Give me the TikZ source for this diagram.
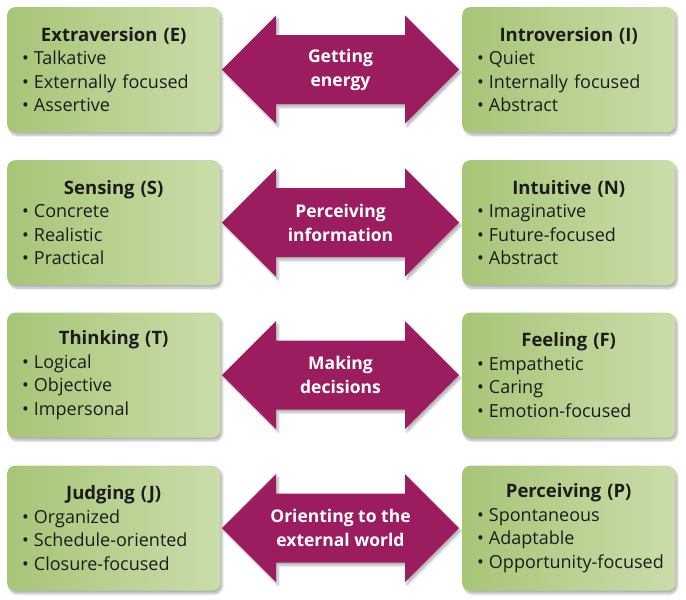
\documentclass[tikz,border=0pt]{standalone}
\usepackage{fontspec}
\setmainfont{Open Sans}
\usetikzlibrary{shadows.blur}

\definecolor{plum}{HTML}{9C1D5F}
\definecolor{greenL}{HTML}{A7C577}
\definecolor{greenR}{HTML}{CADDAA}
\definecolor{ink}{HTML}{1C1C1C}

\tikzset{
  traitbg/.style={
    anchor=north west, rounded corners=8pt,
    minimum width=213pt, minimum height=125pt, inner sep=0pt,
    left color=greenL, right color=greenR,
    blur shadow={shadow xshift=2pt, shadow yshift=-3pt, shadow blur steps=8, shadow opacity=30}},
  traittext/.style={
    text width=183pt, inner sep=0pt, align=left,
    font=\fontsize{18}{23.5}\selectfont, text=ink},
  pairarrow/.style={fill=plum,
    blur shadow={shadow xshift=2pt, shadow yshift=-3pt, shadow blur steps=8, shadow opacity=30}},
  arrowlabel/.style={text=white, align=center,
    font=\fontsize{17.5}{24}\selectfont\bfseries}
}

% one bullet line, never broken
\newcommand{\traititem}[1]{\mbox{\textbullet\hspace{5pt}#1}}

% trait box: name, x, y, title, three bullet items
\newcommand{\traitbox}[7]{%
  \node[traitbg] (#1) at (#2,#3) {};
  \node[traittext] (#1-text) at (#1.center) {{\centering\fontsize{18.5}{23.5}\selectfont\bfseries #4\par}%
    \traititem{#5}\par\traititem{#6}\par\traititem{#7}};
}

% double-headed arrow centred vertically on cy
\newcommand{\pairarrow}[2]{%
  \fill[pairarrow] (222,#1) -- (276,#1-54) -- (276,#1-34.5) -- (405,#1-34.5)
    -- (405,#1-54) -- (459,#1) -- (405,#1+54) -- (405,#1+34.5) -- (276,#1+34.5)
    -- (276,#1+54) -- cycle;
  \coordinate (#2) at (340.5,#1);
}

\begin{document}
\begin{tikzpicture}[x=1pt,y=-1pt]
\useasboundingbox (0,0) rectangle (686,600);

% row 1: energy
\pairarrow{69.5}{energy}
\node[arrowlabel] (energy-label) at (energy) {Getting\\energy};
\traitbox{E}{7}{7}{Extraversion (E)}{Talkative}{Externally focused}{Assertive}
\traitbox{I}{462}{7}{Introversion (I)}{Quiet}{Internally focused}{Abstract}

% row 2: information
\pairarrow{222.5}{info}
\node[arrowlabel] (info-label) at (info) {Perceiving\\information};
\traitbox{S}{7}{160}{Sensing (S)}{Concrete}{Realistic}{Practical}
\traitbox{N}{462}{160}{Intuitive (N)}{Imaginative}{Future-focused}{Abstract}

% row 3: decisions
\pairarrow{375}{decide}
\node[arrowlabel] (decide-label) at (decide) {Making\\decisions};
\traitbox{T}{7}{312.5}{Thinking (T)}{Logical}{Objective}{Impersonal}
\traitbox{F}{462}{312.5}{Feeling (F)}{Empathetic}{Caring}{Emotion-focused}

% row 4: outer world
\pairarrow{528}{orient}
\node[arrowlabel] (orient-label) at (orient) {Orienting to the\\external world};
\traitbox{J}{7}{465.5}{Judging (J)}{Organized}{Schedule-oriented}{Closure-focused}
\traitbox{P}{462}{465.5}{Perceiving (P)}{Spontaneous}{Adaptable}{Opportunity-focused}
\end{tikzpicture}
\end{document}
